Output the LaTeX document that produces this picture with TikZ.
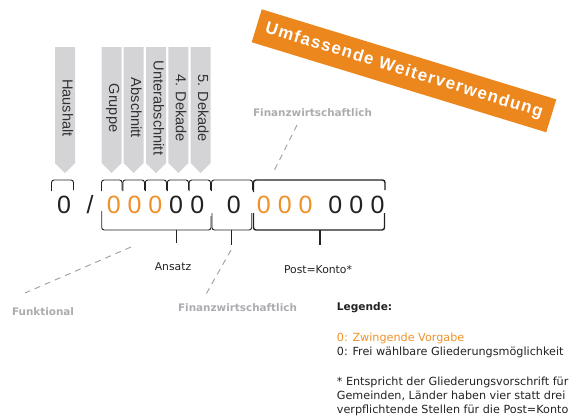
\documentclass[tikz,border=0pt]{standalone}
\usepackage{fontspec}
\setmainfont{DejaVu Sans}
\newfontfamily\arialf{Liberation Sans}
\newfontfamily\bannerf[LetterSpace=7.5]{Liberation Sans}
\definecolor{orng}{RGB}{236,135,30}
\definecolor{txtorng}{RGB}{240,145,40}
\definecolor{pgray}{RGB}{212,212,214}
\definecolor{ptxt}{RGB}{50,50,52}
\definecolor{lgray}{RGB}{172,172,176}
\definecolor{dashgray}{RGB}{165,165,168}
\definecolor{ink}{RGB}{34,34,34}
\tikzset{
  ptext/.style={font=\arialf\fontsize{14.6}{16}\selectfont, text=ptxt, rotate=-90, anchor=base, inner sep=0pt},
  dig/.style={font=\arialf\fontsize{25}{30}\selectfont, text=ink, anchor=base, inner sep=0pt},
  odig/.style={dig, text=txtorng},
  brk/.style={draw=ink, line width=0.9pt, rounded corners=2.5pt},
  bigbrk/.style={brk, line width=1.4pt},
  lbl/.style={font=\fontsize{10.8}{13}\selectfont, text=ink, anchor=base, inner sep=0pt},
  glbl/.style={font=\bfseries\fontsize{10.4}{13}\selectfont, text=lgray, anchor=base, inner sep=0pt},
  leg/.style={font=\fontsize{11.2}{14}\selectfont, text=ink, anchor=base west, inner sep=0pt},
  dsh/.style={draw=dashgray, line width=1pt, dash pattern=on 6pt off 5pt},
  banner/.style={fill=orng, text=white, font=\bannerf\bfseries\fontsize{17}{20}\selectfont,
    minimum width=308pt, minimum height=34.4pt, inner sep=0pt}
}
\newcommand{\topbracket}[2]{\draw[brk] (#1,191) -- (#1,180) -- (#2,180) -- (#2,190);}
\begin{document}
\begin{tikzpicture}[x=1pt,y=-1pt]
\useasboundingbox (0,0) rectangle (571,418);

% banner
\node[banner, rotate=-17] (ban) at (404,70.8) {Umfassende Weiterverwendung};

% pentagons
\foreach \xc/\nm/\txt in {65/hh/Haushalt, 111.7/gr/Gruppe, 133.7/ab/Abschnitt, 156/ua/Unterabschnitt, 178.3/dkv/{4. Dekade}, 200.7/dkf/{5. Dekade}} {
  \fill[pgray] (\xc-10,47) -- (\xc+10,47) -- (\xc+10,163) -- (\xc,173) -- (\xc-10,163) -- cycle;
  \node[ptext] (\nm) at (\xc-2.5,108) {\txt};
}

% digits
\node[dig] (d0) at (64.2,213.3) {0};
\node[dig] (sl) at (90,213.3) {/};
\node[odig] (a1) at (113.8,213.3) {0};
\node[odig] (a2) at (134.7,213.3) {0};
\node[odig] (a3) at (155.3,213.3) {0};
\node[dig] (a4) at (176.2,213.3) {0};
\node[dig] (a5) at (197.3,213.3) {0};
\node[dig] (f1) at (233.8,213.3) {0};
\node[odig] (p1) at (263.8,213.3) {0};
\node[odig] (p2) at (284.7,213.3) {0};
\node[odig] (p3) at (305.5,213.3) {0};
\node[dig] (p4) at (335.3,213.3) {0};
\node[dig] (p5) at (356.3,213.3) {0};
\node[dig] (p6) at (377.5,213.3) {0};

% top brackets
\topbracket{51.5}{73.5}
\topbracket{101.5}{122}
\topbracket{122.8}{144.5}
\topbracket{145.3}{166.5}
\topbracket{167.3}{188.5}
\topbracket{189.2}{210.5}
\topbracket{211.5}{252.5}
\draw[bigbrk] (253.5,192) -- (253.5,180) -- (385,180) -- (385,190);

% bottom braces
\draw[brk] (101.7,211) -- (101.7,230) -- (211,230) -- (211,216);
\draw[brk] (176,230) -- (176,243);
\draw[brk] (212,213) -- (212,230) -- (251.7,230) -- (251.7,213);
\draw[brk] (231.7,230) -- (231.7,245);
\draw[bigbrk] (253.5,213) -- (253.5,230) -- (384.5,230) -- (384.5,213);
\draw[bigbrk] (320,230) -- (320,245);

% labels
\node[lbl] (ans) at (173,270) {Ansatz};
\node[lbl] (pk) at (318,273) {Post=Konto*};
\node[glbl] (fk) at (43,315) {Funktional};
\node[glbl] (fwl) at (237.5,311.5) {Finanzwirtschaftlich};
\node[glbl] (fwu) at (312.5,116.5) {Finanzwirtschaftlich};

% dashed connectors
\coordinate (fkA) at (131,247);
\coordinate (fkB) at (25,293);
\coordinate (fwlA) at (231,250);
\coordinate (fwlB) at (205,296);
\coordinate (fwuA) at (297,125);
\coordinate (fwuB) at (274,171);
\draw[dsh] (fkA) -- (fkB);
\draw[dsh] (fwlA) -- (fwlB);
\draw[dsh] (fwuA) -- (fwuB);

% legend
\node[leg, font=\bfseries\fontsize{10.6}{14}\selectfont] (lg) at (336.7,310.5) {Legende:};
\node[leg, text=txtorng] (l1) at (336.7,341) {0: Zwingende Vorgabe};
\node[leg] (l2) at (336.7,355) {0: Frei wählbare Gliederungsmöglichkeit};
\node[leg] (l3) at (336.7,385.5) {* Entspricht der Gliederungsvorschrift für};
\node[leg] (l4) at (336.7,399.5) {Gemeinden, Länder haben vier statt drei};
\node[leg] (l5) at (336.7,413.5) {verpflichtende Stellen für die Post=Konto};
\end{tikzpicture}
\end{document}
